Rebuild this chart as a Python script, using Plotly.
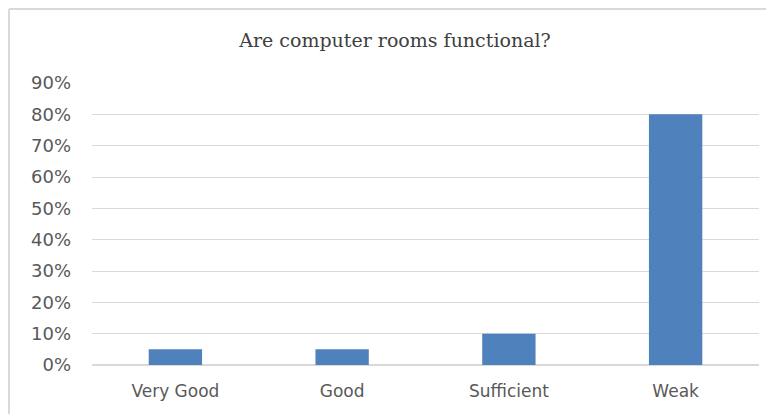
import plotly.graph_objects as go

categories = ["Very Good", "Good", "Sufficient", "Weak"]
values = [0.05, 0.05, 0.10, 0.80]
tick_vals = [0, 0.1, 0.2, 0.3, 0.4, 0.5, 0.6, 0.7, 0.8, 0.9]
tick_text = ["0%", "10%", "20%", "30%", "40%", "50%", "60%", "70%", "80%", "90%"]
title_text = "Are computer rooms functional?"

# page has an 8px body margin; figure sized to fit the window
W, H = 766, 406
L, R, T, B = 84, 15, 75, 49

fig = go.Figure(go.Bar(
    x=categories, y=values, marker=dict(color="#4F81BD", line=dict(width=0)),
    width=0.32, hoverinfo="x+y"))

fig.update_layout(
    width=W, height=H, margin=dict(l=L, r=R, t=T, b=B),
    paper_bgcolor="white", plot_bgcolor="white", showlegend=False,
    title=dict(text=title_text, x=(395 - 8) / W, xanchor="center", y=1 - 32 / H, yanchor="middle",
               font=dict(family="DejaVu Serif", size=19, color="#404040")),
    font=dict(family="DejaVu Sans", size=17, color="#595959"),
)
fig.update_xaxes(showgrid=False, showline=False, ticks="", tickfont=dict(size=17, color="#595959"),
                 ticklabelstandoff=14)
fig.update_yaxes(range=[0, 0.9], tickvals=tick_vals, ticktext=tick_text, showgrid=True,
                 gridcolor="#D9D9D9", gridwidth=1, zeroline=True, zerolinecolor="#D9D9D9",
                 showline=False, ticks="", tickfont=dict(size=18, color="#595959"), ticklabelstandoff=20)

ph = H - T - B
pw = W - L - R
# chart frame (top and left edges at the figure border)
x_left = (1 - L) / pw
y_top = (H - B - 1) / ph
fig.add_shape(type="line", xref="paper", yref="paper", x0=x_left, x1=(W - L) / pw,
              y0=y_top, y1=y_top, line=dict(color="#D9D9D9", width=2))
fig.add_shape(type="line", xref="paper", yref="paper", x0=x_left, x1=x_left,
              y0=y_top, y1=-B / ph, line=dict(color="#D9D9D9", width=2))

fig.write_html("out.html")
